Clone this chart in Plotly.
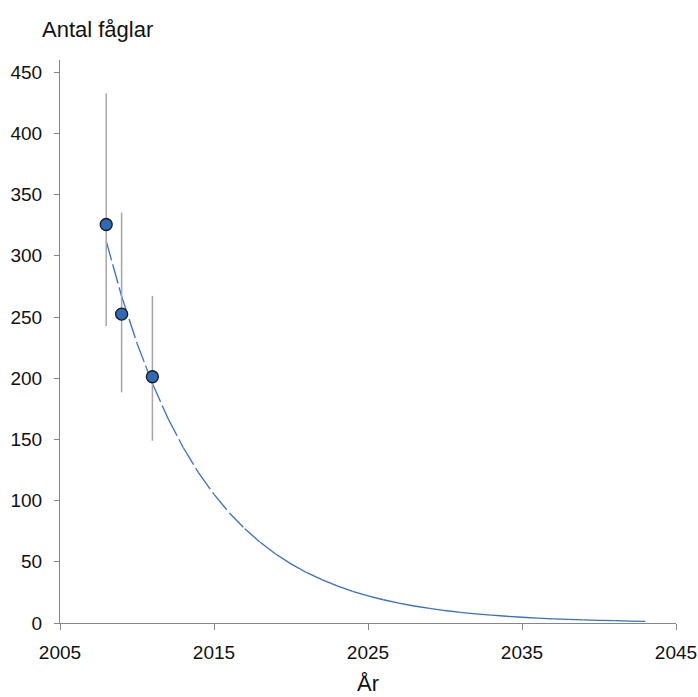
import plotly.graph_objects as go

# Observed counts with confidence intervals
obs_years = [2008, 2009, 2011]
obs_values = [325.6, 252.4, 201.2]
obs_upper = [432.6, 335.4, 267.3]
obs_lower = [242.6, 188.4, 148.9]

# Projected trend
trend_years = list(range(2008, 2044))
trend_values = [312, 267, 228.6, 195.7, 167.5, 143.4, 122.7, 105.1, 89.9, 77.0,
                65.9, 56.4, 48.3, 41.3, 35.4, 30.3, 25.9, 22.2, 19.0, 16.3,
                13.9, 11.9, 10.2, 8.7, 7.5, 6.4, 5.5, 4.7, 4.0, 3.4,
                2.9, 2.5, 2.2, 1.9, 1.6, 1.4]

x_ticks = [2005, 2015, 2025, 2035, 2045]
y_ticks = [0, 50, 100, 150, 200, 250, 300, 350, 400, 450]

LINE = "#3A6EC0"
AXIS = "#868686"
FONT = "Liberation Sans, Arial, sans-serif"

fig = go.Figure()

# trend drawn segment by segment so the dash pattern restarts each year
for i in range(len(trend_years) - 1):
    fig.add_trace(go.Scatter(
        x=trend_years[i:i + 2], y=trend_values[i:i + 2],
        mode="lines", line=dict(color=LINE, width=1.3, dash="20px,4px"),
        hoverinfo="skip", showlegend=False))

fig.add_trace(go.Scatter(
    x=obs_years, y=obs_values, mode="markers",
    marker=dict(size=12, color="#2F69B8", line=dict(color="#1A1A1A", width=1.3)),
    error_y=dict(type="data", symmetric=False,
                 array=[u - v for u, v in zip(obs_upper, obs_values)],
                 arrayminus=[v - l for v, l in zip(obs_values, obs_lower)],
                 color="#A6A6A6", thickness=1.5, width=0),
    showlegend=False))

fig.update_layout(
    width=698, height=697,
    margin=dict(l=60, r=22, t=60, b=74),
    paper_bgcolor="white", plot_bgcolor="white",
    font=dict(family=FONT, size=19, color="#111111"),
    showlegend=False,
)
fig.update_xaxes(
    range=[2005, 2045], tickvals=x_ticks, ticktext=[str(t) for t in x_ticks],
    showgrid=False, zeroline=False, showline=True, linecolor=AXIS, linewidth=1,
    ticks="outside", ticklen=6, tickcolor=AXIS, tickwidth=1,
    ticklabelstandoff=6, automargin=False,
    tickfont=dict(size=19, family=FONT, color="#111111"),
)
fig.update_yaxes(
    range=[0, 460], tickvals=y_ticks, ticktext=[str(t) for t in y_ticks],
    showgrid=False, zeroline=False, showline=True, linecolor=AXIS, linewidth=1,
    ticks="outside", ticklen=5, tickcolor=AXIS, tickwidth=1,
    ticklabelstandoff=8, automargin=False,
    tickfont=dict(size=19, family=FONT, color="#111111"),
)

fig.add_annotation(text="Antal fåglar", xref="paper", yref="paper",
                   x=-0.0325, y=1.0533, xanchor="left", yanchor="middle",
                   showarrow=False, font=dict(size=22, family=FONT, color="#111111"))
fig.add_annotation(text="År", xref="paper", yref="paper",
                   x=0.5, y=-0.108, xanchor="center", yanchor="middle",
                   showarrow=False,
                   font=dict(size=22, family=FONT, color="#111111"))

fig.write_html(
    "out.html",
    config={"displayModeBar": False},
    post_script="document.body.style.margin='0';document.body.style.overflow='hidden';",
)
